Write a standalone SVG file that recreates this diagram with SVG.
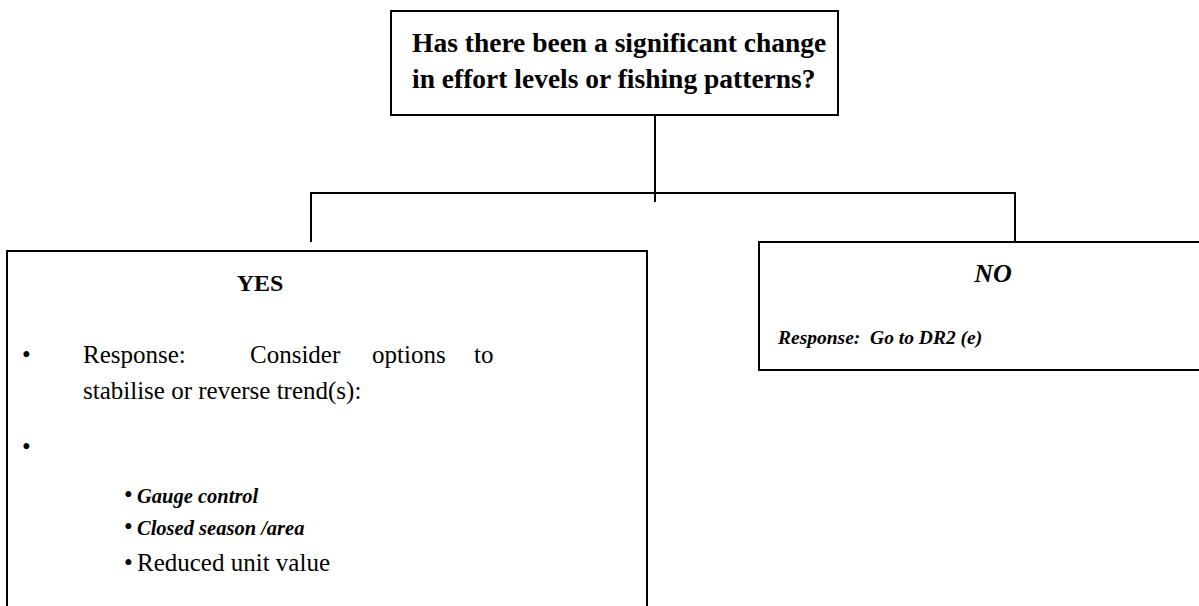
<svg xmlns="http://www.w3.org/2000/svg" width="1199" height="606" viewBox="0 0 1199 606">
  <style>
    .box { fill: #ffffff; stroke: #000000; stroke-width: 2; }
    .wire { fill: none; stroke: #000000; stroke-width: 2; }
    text { font-family: "Liberation Serif", "Times New Roman", serif; fill: #000000; }
    .q { font-size: 27.5px; font-weight: bold; }
    .yes { font-size: 24px; font-weight: bold; }
    .body { font-size: 25px; }
    .opt { font-size: 20.5px; font-weight: bold; font-style: italic; }
    .no { font-size: 26px; font-weight: bold; font-style: italic; }
    .resp { font-size: 19.5px; font-weight: bold; font-style: italic; }
  </style>

  <!-- connectors: stem from question, cross bar, drops to each answer -->
  <g id="connectors">
    <line class="wire" x1="655" y1="106" x2="655" y2="202"/>
    <polyline class="wire" points="311,242 311,193 1015,193 1015,242"/>
  </g>

  <g id="question">
    <rect class="box" x="391" y="11" width="447" height="104"/>
    <text class="q" x="412" y="52">Has there been a significant change</text>
    <text class="q" x="412" y="88">in effort levels or fishing patterns?</text>
  </g>

  <g id="yes">
    <rect class="box" x="7" y="251" width="640" height="380"/>
    <text class="yes" x="260" y="291" text-anchor="middle">YES</text>
    <text class="body" x="22" y="363">•</text>
    <text class="body" x="83" y="363">Response:</text>
    <text class="body" x="250" y="363">Consider</text>
    <text class="body" x="372" y="363">options</text>
    <text class="body" x="474" y="363">to</text>
    <text class="body" x="83" y="399">stabilise or reverse trend(s):</text>
    <text class="body" x="22" y="455">•</text>
    <text class="body" x="124" y="503">•</text>
    <text class="opt" x="137" y="503">Gauge control</text>
    <text class="body" x="124" y="535">•</text>
    <text class="opt" x="137" y="535">Closed season /area</text>
    <text class="body" x="124" y="571">•</text>
    <text class="body" x="137" y="571">Reduced unit value</text>
  </g>

  <g id="no">
    <rect class="box" x="759" y="242" width="460" height="128"/>
    <text class="no" x="993" y="282" text-anchor="middle">NO</text>
    <text class="resp" x="778" y="344" xml:space="preserve">Response:  Go to DR2 (e)</text>
  </g>
</svg>
